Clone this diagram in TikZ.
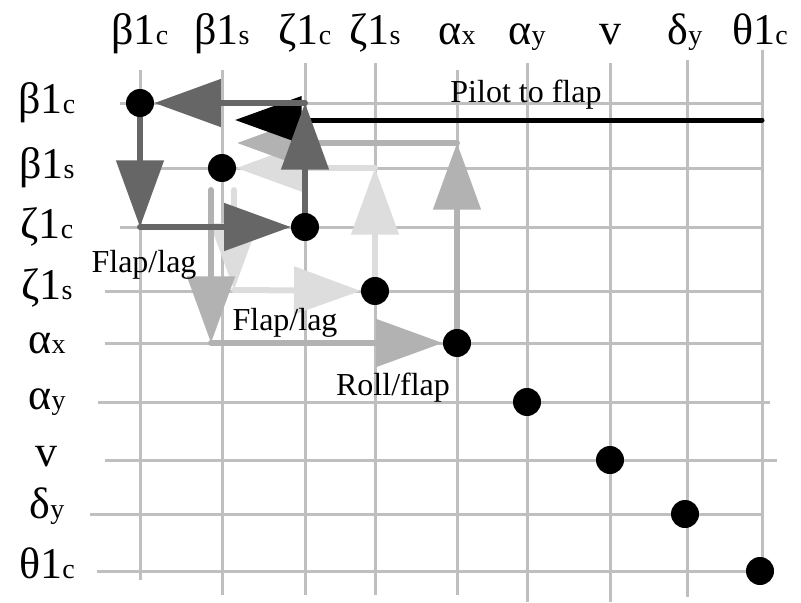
\documentclass[tikz,border=0pt]{standalone}
\usepackage{fontspec}
\setmainfont{Liberation Serif}
\usepackage{tikz}
\usetikzlibrary{arrows.meta,positioning,backgrounds}
\definecolor{gridgray}{RGB}{191,191,191}
\definecolor{darkflow}{RGB}{102,102,102}
\definecolor{midflow}{RGB}{178,178,178}
\definecolor{paleflow}{RGB}{221,221,221}
\newcommand{\stname}[2]{#1{\fontsize{21}{21}\selectfont #2}}

\tikzset{
    gridline/.style={draw=gridgray, line width=2.25pt},
    flow/.style={line width=4.5pt, line cap=round, -{Triangle[length=50pt,width=35pt]}},
    statedot/.style={circle, fill=black, inner sep=0pt, minimum size=21pt},
    statename/.style={font=\fontsize{33}{33}\selectfont, inner sep=0pt},
    flowtext/.style={font=\fontsize{24}{24}\selectfont, anchor=base, inner sep=0pt}
}

\begin{document}
\begin{tikzpicture}[x=0.75pt, y=-0.75pt]
\useasboundingbox (0,0) rectangle (801,603);

% states on the diagonal
\foreach \n/\x/\y in {b1c/140/103, b1s/222/168, z1c/305/227, z1s/375/291, ax/457/343,
                      ay/527/402, v/610/460, dy/685/514, t1c/760/571}
    \node [statedot] (\n) at (\x,\y) {};

% column and row names
\foreach \n/\lbl/\dy in {b1c/{\stname{β1}{c}}/0, b1s/{\stname{β1}{s}}/0, z1c/{\stname{ζ1}{c}}/0,
                     z1s/{\stname{ζ1}{s}}/-3, ax/{\stname{α}{x}}/0, ay/{\stname{α}{y}}/0,
                     v/{v}/-3, dy/{\stname{δ}{y}}/-8, t1c/{\stname{θ1}{c}}/-8} {
    \node [statename, anchor=base] (top-\n) at (\n |- 0,44) {\lbl};
    \node [statename] (left-\n) at ([yshift=-\dy*0.75pt]47,0 |- \n) {\lbl};
}

\node [flowtext] (pilotlbl) at (526,102) {Pilot to flap};
\node [flowtext] (flaplag1) at (144,272) {Flap/lag};
\node [flowtext] (flaplag2) at (285,330) {Flap/lag};
\node [flowtext] (rollflap) at (393,395) {Roll/flap};

\begin{scope}[on background layer]
    \foreach \x/\ya/\yb in {140/70/580, 222/70/595, 305/63/595, 375/63/595, 457/70/595,
                            527/63/602, 610/63/602, 687/60/597, 762/50/571}
        \draw [gridline] (\x,\ya) -- (\x,\yb);
    \foreach \y/\xa/\xb in {103/120/762, 168/120/762, 227/120/762, 291/105/762, 343/105/762,
                            402/98/770, 460/105/777, 514/90/762, 571/97/770}
        \draw [gridline] (\xa,\y) -- (\xb,\y);

    % flap/lag, lightest
    \coordinate (palestart) at (234,190);
    \coordinate (palebend) at (234,290);
    \draw [flow, paleflow] (z1s) -- (z1s |- b1s);
    \draw [flow, paleflow] (z1s |- b1s) -- (b1s);
    \draw [flow, paleflow] (palestart) -- (palebend);
    \draw [flow, paleflow] (palebend) -- (z1s);

    % roll/flap
    \coordinate (midtop) at (457,143);
    \coordinate (midend) at (237,143);
    \coordinate (midstart) at (211,190);
    \coordinate (midbend) at (211,343);
    \draw [flow, midflow] (ax) -- (midtop);
    \draw [flow, midflow] (midtop) -- (midend);
    \draw [flow, midflow] (midstart) -- (midbend);
    \draw [flow, midflow] (midbend) -- (ax);

    % pilot to flap
    \coordinate (pilot) at (762,120);
    \coordinate (pilotend) at (235,120);
    \draw [flow, black, line width=3.75pt] (pilot) -- (pilotend);

    % flap/lag, dark
    \draw [flow, darkflow] (z1c) -- (z1c |- b1c);
    \draw [flow, darkflow] (z1c |- b1c) -- (b1c);
    \draw [flow, darkflow] (b1c) -- (b1c |- z1c);
    \draw [flow, darkflow] (b1c |- z1c) -- (z1c);
\end{scope}
\end{tikzpicture}
\end{document}
